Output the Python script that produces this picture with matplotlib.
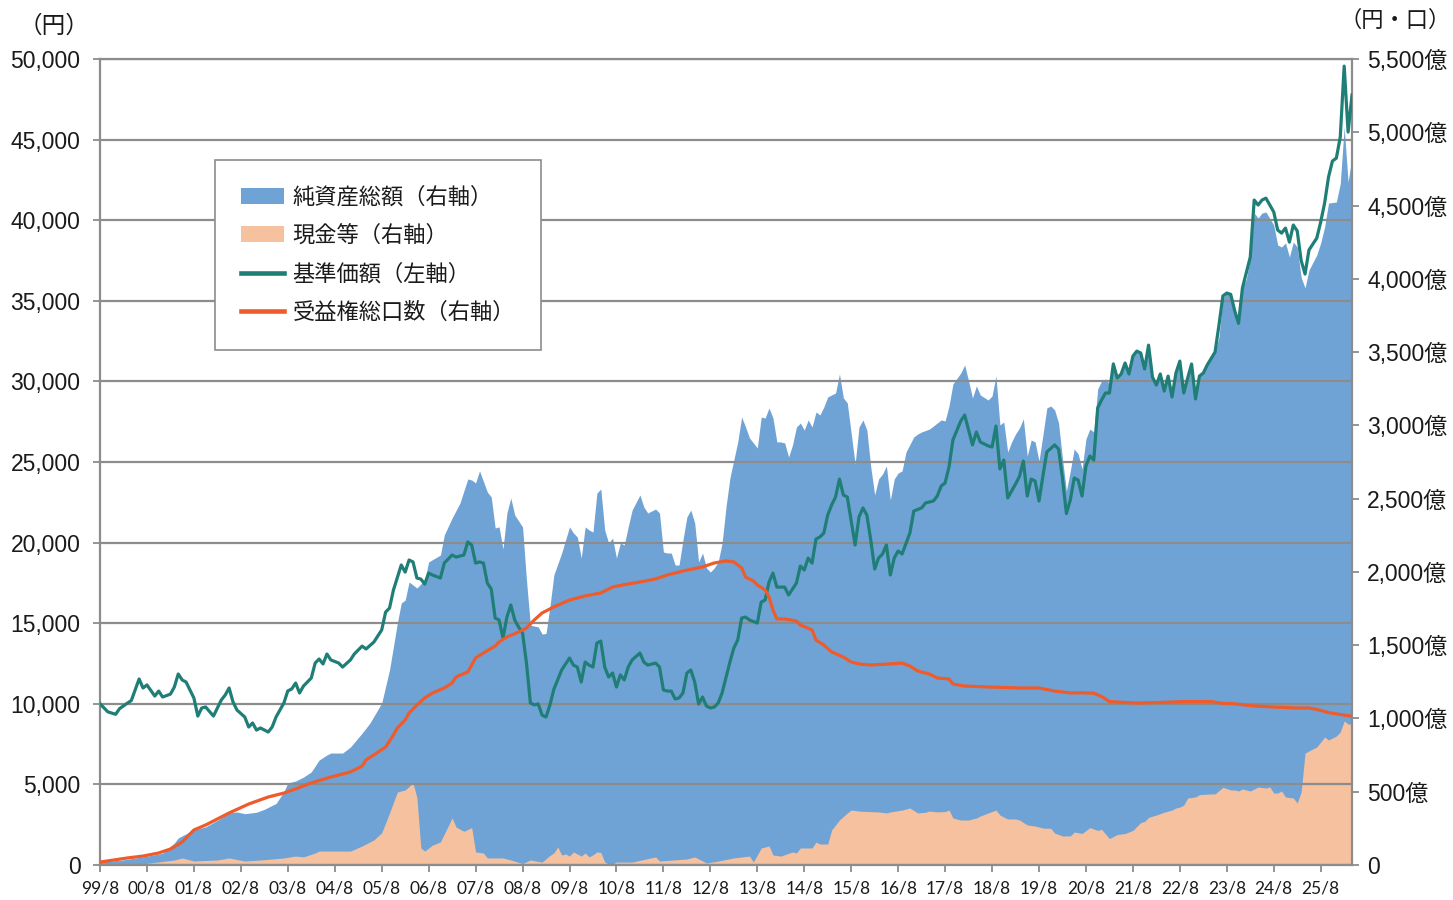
import matplotlib
matplotlib.use("Agg")
import matplotlib.pyplot as plt
from matplotlib.patches import Patch
from matplotlib.lines import Line2D
from matplotlib.font_manager import FontProperties

# ---- data (month index counted from 1999/8) ----
price_m = [0,2,4,5,7,8,10,11,12,14,15,16,18,19,20,21,22,24,25,26,27,29,31,32,33,34,35,37,38,39,40,41,43,44,45,47,48,49,50,51,52,54,55,56,57,58,59,61,62,64,65,67,68,70,
           72,73,74,75,77,78,79,80,81,82,83,84,85,87,88,90,91,93,94,95,96,97,98,99,100,101,102,103,104,105,106,107,108,109,110,111,112,113,114,115,116,118,120,121,122,123,124,125,126,127,128,129,130,131,132,133,134,135,136,138,139,140,142,143,144,145,146,147,148,149,150,151,152,153,154,155,156,157,158,159,161,162,163,164,165,166,168,169,170,171,172,173,175,176,178,179,180,181,182,183,184,185,186,187,188,189,190,191,193,194,195,196,197,198,199,200,201,202,203,204,205,207,208,210,211,213,214,215,216,217,218,220,221,222,223,224,225,227,228,229,230,231,232,234,235,236,237,238,239,240,241,242,244,245,246,247,248,249,250,251,252,253,254,255,256,257,258,259,260,261,262,263,264,265,266,267,268,269,270,271,272,273,274,275,276,277,278,279,280,281,282,283,285,286,287,288,289,290,291,292,294,295,296,297,298,300,301,302,303,304,305,306,307,308,309,311,312,313,314,315,316,317,318,319,320]
price_v = [10000,9500,9350,9700,10040,10200,11540,10980,11170,10480,10790,10420,10600,11040,11850,11480,11350,10360,9240,9740,9800,9240,10235,10545,10980,10110,9615,9180,8560,8810,8370,8500,8250,8560,9180,10050,10800,10920,11290,10670,11100,11600,12530,12780,12470,13090,12720,12530,12280,12720,13090,13580,13400,13830,
           14580,15690,15940,17060,18610,18170,18920,18800,17800,17740,17430,18110,17990,17800,18730,19230,19100,19230,20040,19850,18730,18800,18730,17490,17120,15320,15200,14080,15380,16130,15200,14760,14390,12530,10050,9930,9990,9300,9180,9930,10900,12100,12840,12400,12280,11350,12590,12400,12280,13770,13890,12280,11660,11910,11040,11790,11480,12280,12720,13150,12590,12400,12530,12280,10860,10790,10790,10300,10360,10670,11910,12100,11350,9990,10420,9860,9740,9800,10050,10670,12590,13460,13960,15320,15380,15200,15010,16310,16440,17550,18110,17240,17240,16750,17490,18550,18300,19040,18730,20220,20350,20590,21710,22330,22830,23940,22950,22830,19850,21590,22150,21710,20160,18360,19040,19290,19850,17990,19040,19480,19290,20590,21960,22150,22460,22580,22890,23510,23700,24690,26370,27540,27910,26990,26060,26860,26240,26000,25930,27230,24570,25120,22770,23630,24100,25060,22890,23940,23820,22580,24130,25620,26060,25800,24000,21800,22640,24010,23880,22890,24750,25370,25120,28350,28850,29280,29280,31080,30210,30460,31140,30460,31570,31880,31760,30770,32250,30270,29770,30460,29400,30330,29030,30520,31260,29280,30210,31080,28910,30330,30520,31020,31820,33500,35300,35480,35400,34400,33600,35800,37710,41250,40940,41250,41370,40510,39390,39200,39510,38640,39700,39330,37500,36660,38150,38890,39890,41060,42680,43670,43850,45160,49560,45470,47760]

nav_m = [0,6,12,16,19,20,24,27,30,33,35,37,40,42,45,47,48,50,52,54,56,58,59,62,64,67,69,72,74,76,77,78,79,81,83,84,87,88,90,92,94,95,96,97,99,100,101,102,103,104,105,106,108,109,110,111,112,113,114,115,116,118,120,121,122,123,124,125,126,127,128,129,130,131,132,133,134,135,136,138,139,140,142,143,144,145,146,147,148,149,150,151,152,153,154,155,156,157,158,159,160,161,162,163,164,165,166,168,169,170,171,172,173,174,175,176,177,178,179,180,181,182,183,184,185,186,188,189,190,191,193,194,195,196,197,198,199,200,201,202,203,204,205,206,208,209,210,212,214,215,216,217,218,220,221,222,223,224,225,227,228,229,230,231,232,233,234,235,236,237,238,239,240,241,242,243,244,245,246,247,248,249,250,251,252,253,254,255,256,257,258,259,260,261,262,263,264,265,266,267,268,269,270,271,272,273,274,275,276,277,278,279,280,281,282,283,285,286,287,288,289,290,291,292,293,294,295,296,297,298,300,301,302,303,304,305,306,307,308,309,311,312,313,314,316,317,318,319,320]
nav_v = [20,35,60,80,150,185,240,260,305,355,362,350,360,380,420,500,560,573,600,635,716,751,764,764,805,900,969,1105,1331,1651,1788,1808,1931,1890,1945,2068,2115,2252,2368,2470,2634,2627,2607,2690,2545,2511,2300,2307,2156,2402,2504,2388,2307,1945,1638,1630,1625,1576,1580,1765,1979,2129,2307,2266,2238,2095,2307,2286,2272,2538,2566,2286,2197,2231,2095,2197,2184,2307,2422,2525,2443,2402,2429,2402,2136,2129,2129,2047,2047,2218,2375,2422,2334,2068,2129,2027,1999,2027,2068,2197,2443,2641,2764,2887,3057,2989,2914,2846,3057,3050,3119,3050,2887,2887,2880,2784,2866,2989,3016,2968,3037,2989,3091,3071,3125,3194,3221,3351,3187,3153,2736,2989,3037,2968,2716,2525,2634,2668,2723,2491,2634,2675,2689,2818,2921,2941,2955,2975,3016,3037,3030,3132,3282,3357,3412,3303,3187,3269,3207,3173,3201,3337,3003,3023,2818,2887,2941,2982,3044,2791,2900,2887,2757,2934,3119,3132,3105,3016,2771,2552,2689,2839,2805,2702,2907,2975,2955,3248,3303,3317,3282,3439,3330,3350,3425,3350,3473,3507,3494,3385,3548,3330,3275,3350,3234,3336,3193,3357,3439,3220,3323,3419,3180,3336,3357,3412,3501,3603,3870,3903,3896,3787,3692,3940,4000,4142,4449,4415,4449,4456,4367,4231,4217,4245,4149,4251,4217,4010,3938,4060,4163,4245,4354,4517,4524,4650,5036,4661,4831]

cash_m = [0,10,19,21,24,30,33,37,41,47,50,52,55,56,60,64,67,70,72,74,76,78,80,81,82,83,85,87,90,91,93,95,96,98,99,103,105,108,110,113,115,116,117,118,119,120,121,122,123,124,125,126,127,128,129,130,131,132,136,142,143,150,152,155,158,162,166,167,169,171,172,174,177,178,179,182,183,184,186,187,188,189,191,192,194,196,199,201,202,205,207,209,211,212,214,216,217,218,220,222,224,225,227,229,230,232,234,235,237,239,241,243,244,246,248,249,251,253,255,256,258,260,262,264,266,267,268,270,272,274,275,276,277,278,280,281,284,285,287,289,290,291,292,294,296,298,299,300,301,302,303,305,306,307,308,310,311,313,314,316,317,318,319,320]
cash_v = [0,5,34,48,27,34,48,27,34,48,61,55,82,95,95,95,130,171,220,355,498,512,560,460,116,95,136,157,321,259,230,255,89,82,48,48,34,10,34,20,65,82,123,68,75,61,89,75,61,82,55,70,89,85,20,7,7,20,20,55,27,41,55,14,27,48,61,20,116,130,68,61,89,82,116,116,157,143,143,239,273,307,355,375,368,365,362,355,362,375,389,355,360,368,362,365,375,321,307,307,321,334,355,375,341,314,314,307,273,266,252,250,218,198,198,225,215,255,236,243,180,208,215,236,290,297,325,341,360,375,389,395,409,457,464,480,485,485,530,512,512,505,519,505,532,525,532,491,491,505,464,457,423,498,764,792,805,873,853,880,908,983,962,962]

units_m = [0,7,11,15,18,21,24,27,30,33,38,43,47,50,54,59,64,67,68,70,73,75,76,78,79,81,83,85,88,90,91,94,95,96,98,101,102,104,107,109,111,113,116,120,124,128,131,135,138,142,145,149,154,157,160,162,164,165,167,168,170,171,172,173,175,178,179,182,183,185,187,190,192,194,197,202,205,207,209,212,214,217,218,221,227,235,240,244,248,251,254,256,258,265,272,277,284,287,290,295,300,306,309,311,314,317,320]
units_v = [20,48,61,82,109,157,239,273,314,355,416,464,491,519,560,600,635,675,717,751,805,887,935,990,1037,1092,1140,1174,1208,1242,1283,1317,1365,1413,1447,1494,1522,1556,1590,1617,1672,1720,1761,1808,1836,1856,1897,1918,1931,1952,1979,2006,2034,2061,2075,2068,2027,1965,1938,1911,1877,1829,1740,1679,1679,1665,1638,1604,1535,1501,1454,1419,1385,1372,1365,1372,1378,1358,1324,1303,1276,1269,1235,1221,1215,1208,1208,1187,1174,1175,1172,1150,1115,1105,1110,1115,1115,1103,1100,1085,1078,1071,1071,1062,1040,1027,1015]

n_months = 320
xtick_labels = ["99/8", "00/8", "01/8", "02/8", "03/8", "04/8", "05/8", "06/8", "07/8", "08/8",
                "09/8", "10/8", "11/8", "12/8", "13/8", "14/8", "15/8", "16/8", "17/8", "18/8",
                "19/8", "20/8", "21/8", "22/8", "23/8", "24/8", "25/8"]
left_ticks = list(range(0, 50001, 5000))
right_ticks = list(range(0, 5501, 500))
legend_labels = ["純資産総額（右軸）", "現金等（右軸）", "基準価額（左軸）", "受益権総口数（右軸）"]

# ---- style ----
C_NAV = "#70A3D5"
C_CASH = "#F6C19E"
C_PRICE = "#1F7E76"
C_UNITS = "#EF5B2A"
C_GRID = "#8C8C8C"
CJK = "Noto Sans CJK JP"
NUM = ["Liberation Sans", CJK]

fig = plt.figure(figsize=(14.53, 9), dpi=100)
rect = [100/1453, 35/900, 1252/1453, 806/900]
ax = fig.add_axes(rect)
ax_r = ax.twinx()
ax3 = ax.twinx()
ax_r.set_zorder(1)
ax.set_zorder(2)
ax3.set_zorder(3)
ax.patch.set_visible(False)
ax3.patch.set_visible(False)

# areas on right axis
ax_r.fill_between(nav_m, nav_v, 0, color=C_NAV, lw=0)
ax_r.fill_between(cash_m, cash_v, 0, color=C_CASH, lw=0)
ax_r.set_ylim(0, 5500)
ax_r.set_xlim(0, n_months)
for s in ax_r.spines.values():
    s.set_visible(False)
ax_r.set_yticks(right_ticks, [("0" if v == 0 else f"{v:,}億") for v in right_ticks],
                fontfamily=NUM, fontsize=16.5)
ax_r.tick_params(axis="y", direction="out", length=5, width=1.3, color=C_GRID, pad=6, labelcolor="#1a1a1a")

# price line on left axis
ax.plot(price_m, price_v, color=C_PRICE, lw=2.3, solid_joinstyle="round", zorder=3)
ax.set_ylim(0, 50000)
ax.set_xlim(0, n_months)
ax.grid(axis="y", color=C_GRID, lw=1.6)
ax.set_axisbelow(True)
for s in ax.spines.values():
    s.set_color(C_GRID)
    s.set_linewidth(1.6)
ax.set_yticks(left_ticks, [f"{v:,}" for v in left_ticks], fontfamily="Liberation Sans", fontsize=16.5)
ax.tick_params(axis="y", direction="out", length=5, width=1.3, color=C_GRID, pad=9, labelcolor="#1a1a1a")
ax.set_xticks(list(range(0, 12 * len(xtick_labels), 12)), xtick_labels, fontfamily="Lato", fontsize=12.5)
ax.tick_params(axis="x", direction="out", length=5, width=1.3, color=C_GRID, pad=6, labelcolor="#1a1a1a")

# units line on top layer, right scale
ax3.plot(units_m, units_v, color=C_UNITS, lw=2.3, solid_joinstyle="round")
ax3.set_ylim(0, 5500)
ax3.set_xlim(0, n_months)
ax3.axis("off")

# axis unit labels
fig.text(54/1453, 1 - 26/900, "（円）", fontfamily=CJK, fontsize=17, ha="center", va="center", color="#1a1a1a")
fig.text(1451/1453, 1 - 20/900, "（円・口）", fontfamily=CJK, fontsize=16, ha="right", va="center", color="#1a1a1a")

# legend
handles = [Patch(facecolor=C_NAV, edgecolor="none"),
           Patch(facecolor=C_CASH, edgecolor="none"),
           Line2D([], [], color=C_PRICE, lw=3.3),
           Line2D([], [], color=C_UNITS, lw=3.3)]
leg = fig.legend(handles, legend_labels, loc="upper left",
                 bbox_to_anchor=(215/1453, 1 - 160/900), borderaxespad=0,
                 prop=FontProperties(family=CJK, size=16), frameon=True, fancybox=False,
                 edgecolor="#8C8C8C", facecolor="white", framealpha=1,
                 handlelength=1.94, handleheight=0.72, handletextpad=0.38,
                 labelspacing=0.69, borderpad=1.16)
leg.get_frame().set_linewidth(1.2)
for t in leg.get_texts():
    t.set_color("#1a1a1a")

fig.savefig("out.png", dpi=100, facecolor="white")
